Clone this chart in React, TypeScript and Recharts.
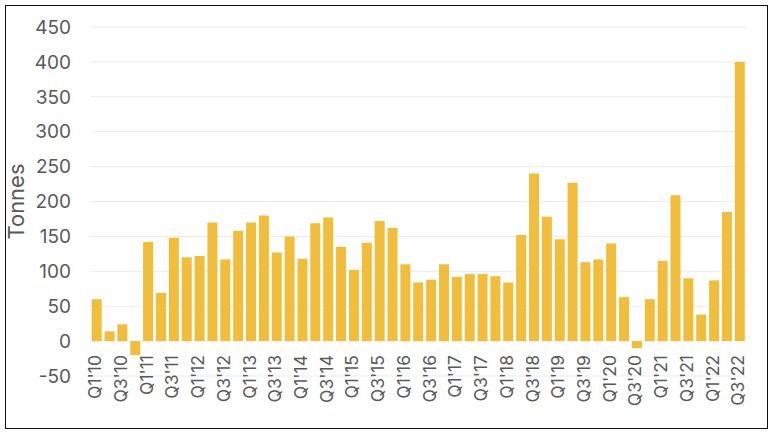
import { BarChart, Bar, XAxis, YAxis, CartesianGrid } from "recharts";

// quarters Q1'10 .. Q3'22
const quarters = [
  "Q1'10", "Q2'10", "Q3'10", "Q4'10",
  "Q1'11", "Q2'11", "Q3'11", "Q4'11",
  "Q1'12", "Q2'12", "Q3'12", "Q4'12",
  "Q1'13", "Q2'13", "Q3'13", "Q4'13",
  "Q1'14", "Q2'14", "Q3'14", "Q4'14",
  "Q1'15", "Q2'15", "Q3'15", "Q4'15",
  "Q1'16", "Q2'16", "Q3'16", "Q4'16",
  "Q1'17", "Q2'17", "Q3'17", "Q4'17",
  "Q1'18", "Q2'18", "Q3'18", "Q4'18",
  "Q1'19", "Q2'19", "Q3'19", "Q4'19",
  "Q1'20", "Q2'20", "Q3'20", "Q4'20",
  "Q1'21", "Q2'21", "Q3'21", "Q4'21",
  "Q1'22", "Q2'22", "Q3'22",
];

const tonnes = [
  60, 14, 24, -20,
  142, 69, 148, 120,
  122, 170, 117, 158,
  170, 180, 127, 150,
  118, 169, 177, 135,
  102, 141, 172, 162,
  110, 84, 88, 110,
  92, 96, 96, 93,
  84, 152, 240, 178,
  146, 227, 113, 117,
  140, 63, -10, 60,
  115, 209, 90, 38,
  87, 185, 400,
];

const yTicks = [-50, 0, 50, 100, 150, 200, 250, 300, 350, 400, 450];

const data = quarters.map((q, i) => ({ quarter: q, value: tonnes[i] }));

const FONT = "Inter, 'Noto Sans', sans-serif";
const TEXT = "#595959";

// labels sit just under the zero line, not at the bottom of the plot
function QuarterTick({ x, payload }: any) {
  return (
    <text
      x={x - 1}
      y={355}
      transform={`rotate(-90 ${x - 1} 355)`}
      textAnchor="end"
      dy="0.33em"
      fill={TEXT}
      fontSize={17.5}
      fontFamily={FONT}
    >
      {payload.value}
    </text>
  );
}

export default function App() {
  return (
    <div style={{ position: "absolute", left: 0, top: 0, width: 773, height: 433, background: "#fff" }}>
      <div
        style={{
          position: "absolute",
          left: 5,
          top: 5,
          width: 761,
          height: 422,
          border: "1px solid #111",
        }}
      />
      <div style={{ position: "absolute", left: 0, top: 0 }}>
        <BarChart
          width={773}
          height={433}
          data={data}
          margin={{ top: 27, right: 27, bottom: 0, left: 0 }}
          barCategoryGap="13%"
        >
          <CartesianGrid vertical={false} stroke="#ebebeb" strokeWidth={1} />
          <XAxis
            dataKey="quarter"
            interval={1}
            height={57}
            axisLine={false}
            tickLine={false}
            tick={<QuarterTick />}
          />
          <YAxis
            width={90}
            domain={[-50, 450]}
            ticks={yTicks}
            axisLine={false}
            tickLine={false}
            tickSize={19}
            tickMargin={0}
            tick={{ fill: TEXT, fontSize: 19, fontFamily: FONT }}
            label={{
              value: "Tonnes",
              angle: -90,
              position: "insideLeft",
              offset: 16,
              style: { textAnchor: "middle", fill: TEXT, fontSize: 22, fontFamily: FONT },
            }}
          />
          <Bar dataKey="value" fill="#F0BD3C" isAnimationActive={false} />
        </BarChart>
      </div>
    </div>
  );
}
